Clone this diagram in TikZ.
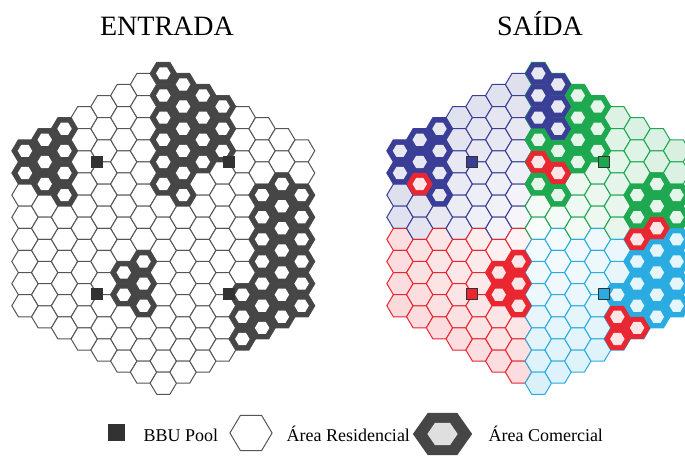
\documentclass[tikz,border=0pt]{standalone}
\usepackage{fontspec}
\setmainfont{Liberation Serif}
\usepackage{tikz}
\usepackage{xcolor}

\definecolor{ringgray}{RGB}{70,70,70}
\definecolor{linegray}{RGB}{85,85,85}
\definecolor{poolgray}{RGB}{50,50,50}
\definecolor{bbublue}{RGB}{58,62,150}
\definecolor{bbugreen}{RGB}{30,168,80}
\definecolor{bbured}{RGB}{234,38,48}
\definecolor{bbucyan}{RGB}{42,172,226}

\newcommand{\commcells}{-7/-7/bbublue,-7/-5/bbublue,-6/-8/bbublue,-6/-6/bbublue,-6/-4/bbured,
  -5/-9/bbublue,-5/-7/bbublue,-5/-5/bbublue,-5/-3/bbublue,
  0/-14/bbublue,0/-12/bbublue,0/-10/bbublue,0/-8/bbugreen,0/-6/bbured,0/-4/bbugreen,
  1/-13/bbublue,1/-11/bbublue,1/-9/bbublue,1/-7/bbugreen,1/-5/bbured,1/-3/bbugreen,
  2/-12/bbugreen,2/-10/bbugreen,2/-8/bbugreen,2/-6/bbugreen,
  3/-11/bbugreen,3/-9/bbugreen,3/-7/bbugreen,
  -1/3/bbured,-1/5/bbured,-1/7/bbured,-2/4/bbured,-2/6/bbured,
  4/6/bbucyan,4/8/bbured,4/10/bbured,
  5/-3/bbugreen,5/-1/bbugreen,5/1/bbured,5/3/bbucyan,5/5/bbucyan,5/7/bbucyan,5/9/bbured,
  6/-4/bbugreen,6/-2/bbugreen,6/0/bbured,6/2/bbucyan,6/4/bbucyan,6/6/bbucyan,6/8/bbucyan,
  7/-3/bbugreen,7/-1/bbugreen,7/1/bbucyan,7/3/bbucyan,7/5/bbucyan,7/7/bbucyan}

\begin{document}
\begin{tikzpicture}[
  x=1pt,y=-1pt,
  cell/.pic={\path[pic actions] (-13.17,0) -- (-6.585,11.07) -- (6.585,11.07) -- (13.17,0) -- (6.585,-11.07) -- (-6.585,-11.07) -- cycle;},
  thin/.style={draw=linegray,line width=1pt,fill=white},
  pool/.style={draw=poolgray,line width=1pt,minimum size=11pt,inner sep=0pt},
  title/.style={anchor=base,font=\fontsize{28}{32}\selectfont},
  legend/.style={anchor=base west,font=\fontsize{18}{22}\selectfont}
]
\useasboundingbox (0,0) rectangle (685,455);
\clip (0,0) rectangle (685,455);

\node[title] (entrada) at (167,35) {ENTRADA};
\node[title] (saida) at (540,35) {SAÍDA};

\foreach \c in {-7,...,7}{
  \pgfmathtruncatemacro\kmin{abs(\c)-14}
  \pgfmathtruncatemacro\knext{\kmin+2}
  \pgfmathtruncatemacro\kmax{14-abs(\c)}
  \foreach \k in {\kmin,\knext,...,\kmax}{
    \pic[thin] at ({163.3+19.76*(\c)},{228.3+11.065*(\k)}) {cell};
  }
}
\foreach \c/\k/\q in \commcells{
  \pic[fill=ringgray] at ({163.3+19.76*(\c)},{228.3+11.065*(\k)}) {cell};
  \pic[fill=white,scale=0.55] at ({163.3+19.76*(\c)},{228.3+11.065*(\k)}) {cell};
}
\node[pool,fill=poolgray] (pool1) at (97.3,162.3) {};
\node[pool,fill=poolgray] (pool2) at (229.3,162.3) {};
\node[pool,fill=poolgray] (pool3) at (97.3,294.3) {};
\node[pool,fill=poolgray] (pool4) at (229.3,294.3) {};

\foreach \c in {-7,...,7}{
  \pgfmathtruncatemacro\kmin{abs(\c)-14}
  \pgfmathtruncatemacro\knext{\kmin+2}
  \pgfmathtruncatemacro\kmax{14-abs(\c)}
  \foreach \k in {\kmin,\knext,...,\kmax}{
    \ifnum\c<0 \ifnum\k>0 \def\q{bbured}\else\def\q{bbublue}\fi
    \else \ifnum\k>0 \def\q{bbucyan}\else\def\q{bbugreen}\fi\fi
    \pgfmathtruncatemacro\tint{3+14*veclen(19.76*(\c),11.065*(\k))/150}
    \pic[draw=\q,fill=\q!\tint,line width=1pt] at ({538.3+19.76*(\c)},{228.3+11.065*(\k)}) {cell};
  }
}
\foreach \c/\k/\q in \commcells{
  \pic[fill=\q] at ({538.3+19.76*(\c)},{228.3+11.065*(\k)}) {cell};
  \pic[fill=\q!12,scale=0.55] at ({538.3+19.76*(\c)},{228.3+11.065*(\k)}) {cell};
}
\node[pool,fill=bbublue] (pool5) at (472.3,162.3) {};
\node[pool,fill=bbugreen] (pool6) at (604.3,162.3) {};
\node[pool,fill=bbured] (pool7) at (472.3,294.3) {};
\node[pool,fill=bbucyan] (pool8) at (604.3,294.3) {};

\node[pool,fill=poolgray,minimum size=16pt] (keypool) at (116,432) {};
\node[legend] (keypooltext) at (140,441) {BBU Pool};
\pic[thin,scale=1.6] at (251,433) {cell};
\node[legend] (keyres) at (283,441) {Área Residencial};
\pic[fill=ringgray,xscale=2.25,yscale=1.9] at (442.5,434) {cell};
\pic[fill=gray!25,xscale=1.15,yscale=1.0] at (442.5,434) {cell};
\node[legend] (keycom) at (485,441) {Área Comercial};
\end{tikzpicture}
\end{document}
